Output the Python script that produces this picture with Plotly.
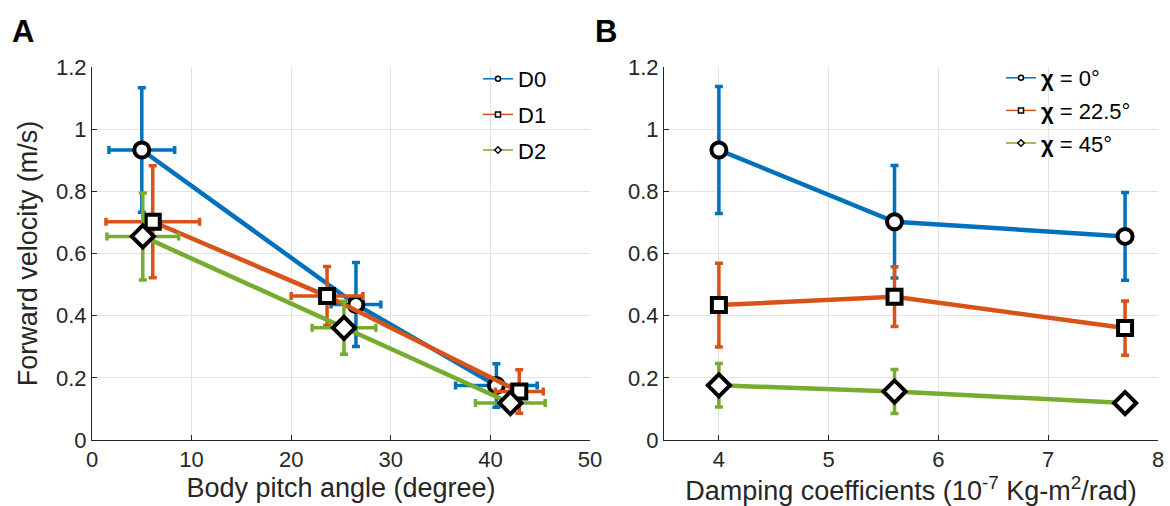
import plotly.graph_objects as go

# ---------------- data ----------------
series_A = ["D0", "D1", "D2"]
pitch_D0 = [5.0, 26.5, 40.6]
pitch_D1 = [6.1, 23.6, 42.9]
pitch_D2 = [5.1, 25.3, 42.0]
pitch_err_D0 = [3.3, 2.5, 4.1]
pitch_err_D1 = [4.7, 3.6, 2.4]
pitch_err_D2 = [3.6, 3.2, 3.5]
vel_D0 = [0.933, 0.436, 0.175]
vel_D1 = [0.702, 0.463, 0.156]
vel_D2 = [0.655, 0.361, 0.119]
vel_err_D0 = [0.20, 0.135, 0.07]
vel_err_D1 = [0.18, 0.095, 0.07]
vel_err_D2 = [0.14, 0.085, 0.02]

series_B = ["<b>χ</b> = 0°", "<b>χ</b> = 22.5°", "<b>χ</b> = 45°"]
damping = [4.0, 5.6, 7.7]
vel_chi0 = [0.933, 0.702, 0.655]
vel_chi22 = [0.434, 0.461, 0.360]
vel_chi45 = [0.176, 0.156, 0.119]
err_chi0 = [0.204, 0.181, 0.141]
err_chi22 = [0.135, 0.096, 0.087]
err_chi45 = [0.070, 0.071, 0.015]

y_ticks = [0, 0.2, 0.4, 0.6, 0.8, 1.0, 1.2]
y_ticklabels = ["0", "0.2", "0.4", "0.6", "0.8", "1", "1.2"]
xA_ticks = [0, 10, 20, 30, 40, 50]
xB_ticks = [4, 5, 6, 7, 8]

colors = ["#0072BD", "#D95319", "#77AC30"]
symbols = ["circle", "square", "diamond"]
msizes = [15, 14, 17]

FONT = "Liberation Sans, Arial, Helvetica, sans-serif"
TXT = "#262626"

fig = go.Figure()

A_x = [pitch_D0, pitch_D1, pitch_D2]
A_xe = [pitch_err_D0, pitch_err_D1, pitch_err_D2]
A_y = [vel_D0, vel_D1, vel_D2]
A_ye = [vel_err_D0, vel_err_D1, vel_err_D2]
for i in range(3):
    fig.add_trace(go.Scatter(
        x=A_x[i], y=A_y[i], mode="lines+markers", xaxis="x", yaxis="y",
        line=dict(color=colors[i], width=4.5),
        marker=dict(symbol=symbols[i], size=msizes[i], color="white",
                    line=dict(color="black", width=4)),
        error_x=dict(type="data", array=A_xe[i], color=colors[i], thickness=3.5, width=4),
        error_y=dict(type="data", array=A_ye[i], color=colors[i], thickness=3.5, width=4),
        showlegend=False))

B_y = [vel_chi0, vel_chi22, vel_chi45]
B_ye = [err_chi0, err_chi22, err_chi45]
for i in range(3):
    fig.add_trace(go.Scatter(
        x=damping, y=B_y[i], mode="lines+markers", xaxis="x2", yaxis="y2",
        line=dict(color=colors[i], width=4.5),
        marker=dict(symbol=symbols[i], size=msizes[i], color="white",
                    line=dict(color="black", width=4)),
        error_y=dict(type="data", array=B_ye[i], color=colors[i], thickness=3.5, width=4),
        showlegend=False))

# legend-only entries
for i in range(3):
    fig.add_trace(go.Scatter(
        x=[None], y=[None], mode="lines+markers", xaxis="x", yaxis="y",
        name=series_A[i], legend="legend", legendgroup="a%d" % i,
        line=dict(color=colors[i], width=1.5),
        marker=dict(symbol=symbols[i], size=5, color="white",
                    line=dict(color="black", width=1.5))))
for i in range(3):
    fig.add_trace(go.Scatter(
        x=[None], y=[None], mode="lines+markers", xaxis="x2", yaxis="y2",
        name=series_B[i], legend="legend2", legendgroup="b%d" % i,
        line=dict(color=colors[i], width=1.5),
        marker=dict(symbol=symbols[i], size=5, color="white",
                    line=dict(color="black", width=1.5))))

axis_common = dict(
    showgrid=True, gridcolor="#e3e3e3", gridwidth=1,
    showline=True, linecolor=TXT, linewidth=1,
    ticks="inside", ticklen=5, tickcolor=TXT,
    tickfont=dict(family=FONT, size=22, color=TXT),
    zeroline=False, mirror=False, automargin=False,
)

W, H = 1170, 506
def px_x(p):
    return p / W
def px_y(p):
    return 1 - p / H

fig.update_layout(
    width=W, height=H,
    margin=dict(l=0, r=0, t=0, b=0),
    paper_bgcolor="white", plot_bgcolor="white",
    font=dict(family=FONT, color=TXT),
    xaxis=dict(domain=[px_x(92), px_x(590)], range=[0, 50], tickvals=xA_ticks,
               anchor="y",
               title=dict(text="Body pitch angle (degree)", font=dict(size=27, color=TXT),
                          standoff=6),
               **axis_common),
    yaxis=dict(domain=[px_y(440), px_y(67)], range=[0, 1.2], tickvals=y_ticks,
               ticktext=y_ticklabels, anchor="x",
               title=dict(text="Forward velocity (m/s)", font=dict(size=27, color=TXT),
                          standoff=10),
               **axis_common),
    xaxis2=dict(domain=[px_x(664), px_x(1158)], range=[3.5, 8], tickvals=xB_ticks,
                anchor="y2",
                title=dict(text="Damping coefficients (10<sup>-7</sup> Kg-m<sup>2</sup>/rad)",
                           font=dict(size=27, color=TXT), standoff=6),
                **axis_common),
    yaxis2=dict(domain=[px_y(440), px_y(67)], range=[0, 1.2], tickvals=y_ticks,
                ticktext=y_ticklabels, anchor="x2",
                **axis_common),
    legend=dict(x=px_x(478), xanchor="left", y=px_y(58), yanchor="top",
                bgcolor="rgba(255,255,255,0)", borderwidth=0,
                font=dict(family=FONT, size=22, color="black"),
                tracegroupgap=4, itemwidth=30),
    legend2=dict(x=px_x(1001), xanchor="left", y=px_y(57), yanchor="top",
                 bgcolor="rgba(255,255,255,0)", borderwidth=0,
                 font=dict(family=FONT, size=22, color="black"),
                 tracegroupgap=1, itemwidth=30),
    annotations=[
        dict(text="<b>A</b>", x=px_x(10), y=px_y(32), xref="paper", yref="paper",
             xanchor="left", yanchor="middle", showarrow=False,
             font=dict(family=FONT, size=31, color="black")),
        dict(text="<b>B</b>", x=px_x(593), y=px_y(32), xref="paper", yref="paper",
             xanchor="left", yanchor="middle", showarrow=False,
             font=dict(family=FONT, size=31, color="black")),
    ],
)

fig.write_html("out.html")
